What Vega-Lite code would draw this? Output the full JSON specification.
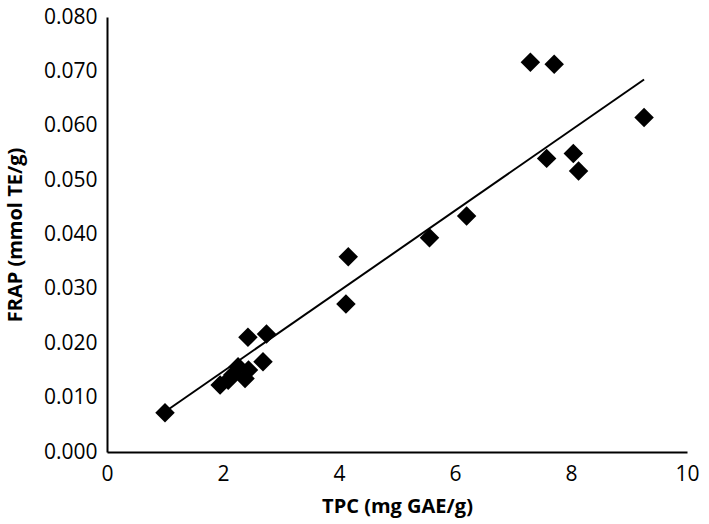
{
  "$schema": "https://vega.github.io/schema/vega-lite/v6.json",
  "autosize": {"type": "none"},
  "width": 580,
  "height": 435,
  "padding": {"left": 107, "top": 17, "right": 22, "bottom": 72},
  "background": "white",
  "config": {
    "view": {"stroke": null},
    "font": "Open Sans",
    "axis": {
      "grid": false,
      "domainColor": "#000000",
      "domainWidth": 2,
      "ticks": false,
      "labelFlush": false,
      "labelFont": "Open Sans",
      "labelFontSize": 21,
      "labelColor": "#000000",
      "titleFont": "Open Sans",
      "titleFontSize": 20,
      "titleFontWeight": "bold",
      "titleColor": "#000000"
    }
  },
  "datasets": {
    "points": [
      {"tpc": 1.0, "frap": 0.0072},
      {"tpc": 1.95, "frap": 0.0123},
      {"tpc": 2.09, "frap": 0.0132},
      {"tpc": 2.17, "frap": 0.0142},
      {"tpc": 2.26, "frap": 0.0157},
      {"tpc": 2.38, "frap": 0.0135},
      {"tpc": 2.44, "frap": 0.0151},
      {"tpc": 2.43, "frap": 0.0211},
      {"tpc": 2.69, "frap": 0.0166},
      {"tpc": 2.75, "frap": 0.0217},
      {"tpc": 4.12, "frap": 0.0272},
      {"tpc": 4.16, "frap": 0.0359},
      {"tpc": 5.56, "frap": 0.0394},
      {"tpc": 6.2, "frap": 0.0434},
      {"tpc": 7.30, "frap": 0.0717},
      {"tpc": 7.71, "frap": 0.0713},
      {"tpc": 7.58, "frap": 0.0540},
      {"tpc": 8.04, "frap": 0.0549},
      {"tpc": 8.13, "frap": 0.0517},
      {"tpc": 9.26, "frap": 0.0615}
    ],
    "trend": [
      {"tpc": 1.0, "frap": 0.0074},
      {"tpc": 9.26, "frap": 0.0685}
    ]
  },
  "layer": [
    {
      "data": {"name": "trend"},
      "mark": {"type": "line", "color": "#000000", "strokeWidth": 2},
      "encoding": {
        "x": {"field": "tpc", "type": "quantitative"},
        "y": {"field": "frap", "type": "quantitative"}
      }
    },
    {
      "data": {"name": "points"},
      "mark": {"type": "point", "shape": "diamond", "filled": true, "color": "#000000", "opacity": 1, "size": 380},
      "encoding": {
        "x": {
          "field": "tpc", "type": "quantitative",
          "scale": {"domain": [0, 10], "nice": false},
          "axis": {"values": [0, 2, 4, 6, 8, 10], "format": "d", "title": "TPC (mg GAE/g)", "labelPadding": 11, "titlePadding": 12}
        },
        "y": {
          "field": "frap", "type": "quantitative",
          "scale": {"domain": [0, 0.08], "nice": false},
          "axis": {"values": [0, 0.01, 0.02, 0.03, 0.04, 0.05, 0.06, 0.07, 0.08], "format": ".3f", "title": "FRAP (mmol TE/g)", "labelPadding": 10, "titlePadding": 18}
        }
      }
    }
  ]
}
